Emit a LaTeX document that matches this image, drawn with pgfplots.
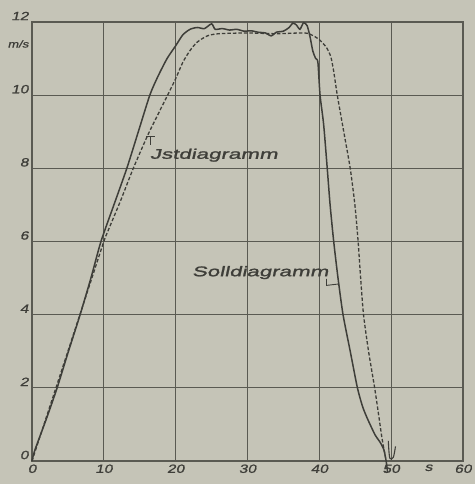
\documentclass[border=0pt]{standalone}
\usepackage{pgfplots}
\pgfplotsset{compat=1.18}
\usepackage{fontspec}
\setmainfont{Liberation Sans}
\newfontfamily\lab[FakeSlant=0.22,FakeStretch=1.3,FakeBold=1.2]{Liberation Sans}
\newfontfamily\curvelab[FakeSlant=0.22,FakeStretch=1.6,FakeBold=1.5]{Liberation Sans}
\definecolor{paper}{HTML}{C5C4B7}
\definecolor{ink}{HTML}{3E3E39}
\definecolor{gridc}{HTML}{5A5A52}

\begin{document}
\begin{tikzpicture}
\fill[paper] (-32bp,-23bp) rectangle (443bp,461bp);
\begin{axis}[
    scale only axis,
    width=431bp, height=439bp,
    xmin=0, xmax=60, ymin=0, ymax=12,
    xtick={0,10,...,60}, ytick={0,2,...,12},
    grid=major,
    major grid style={gridc, line width=1.1bp},
    axis line style={gridc, line width=1.1bp},
    major tick length=0pt,
    /pgf/number format/assume math mode=true,
    ticklabel style={font=\lab\fontsize{12}{12}\selectfont, text=ink},
    yticklabel style={yshift=6bp},
    clip=false,
]
% solid curve
\addplot[ink, line width=1.5bp, smooth, tension=0.4] coordinates {
(0,0) (0.4,0.3) (2,1.15) (3.5,2) (5,2.95) (6.7,4) (8.2,5) (9.6,6) (11.4,7)
(13.2,8) (14.8,9) (16.4,10) (17.5,10.5) (18.8,11) (20,11.35) (21,11.65)
(22,11.8) (23,11.85) (24,11.82) (25,11.95) (25.5,11.8) (26.5,11.82)
(27.5,11.78) (28.5,11.8) (29.5,11.75) (30.5,11.76) (31.5,11.72) (32.5,11.7)
(33.3,11.62) (34,11.72) (35,11.75) (35.8,11.85) (36.3,11.97) (36.8,11.92)
(37.3,11.8) (37.8,11.98) (38.3,11.9) (38.7,11.6) (39.1,11.2) (39.5,11.0)
(39.8,10.9) (40.1,10) (40.6,9.2) (41.1,8) (41.5,7) (42.0,6) (42.6,5)
(43.3,4) (44.3,3) (45.3,2) (46,1.5) (46.6,1.2) (47.3,0.9) (47.8,0.7)
(48.5,0.5) (49,0.3) (49.3,0) (49.5,-0.3)
};
% dashed curve
\addplot[ink, line width=1.3bp, dash pattern=on 3.5bp off 2bp, smooth, tension=0.4] coordinates {
(0,0) (2,1.2) (4,2.4) (6,3.6) (8,4.8) (10,6) (10.6,6.3) (12.3,7.1) (14.1,8)
(16.1,8.9) (17.6,9.5) (19,10.05) (20,10.45) (21,10.9) (22,11.22) (23,11.45)
(24.4,11.62) (26,11.68) (30,11.7) (34,11.68) (38,11.7) (39.2,11.62) (40.1,11.5)
(41,11.3) (41.6,11.05) (42,10.65) (42.5,10) (43.4,9) (44.3,8) (44.95,7)
(45.4,6) (45.75,5) (46.15,4) (46.85,3) (47.7,2) (48.3,1.2) (48.7,0.65) (49.2,0.1)
};
% small hook at the end
\addplot[ink, line width=1.1bp, smooth] coordinates {(49.6,0.55) (49.8,0.08) (50.3,0.1) (50.6,0.4)};
% leader lines
\addplot[ink, line width=0.9bp] coordinates {(15.9,8.88) (17.1,8.88)};
\addplot[ink, line width=0.9bp] coordinates {(16.5,8.88) (16.5,8.65)};
\addplot[ink, line width=0.9bp] coordinates {(41.0,4.98) (41.0,4.8) (42.75,4.84)};

\node[font=\curvelab\fontsize{14}{14}\selectfont, text=ink, anchor=west, inner sep=0pt]
    at (axis cs:16.4,8.36) {Jstdiagramm};
\node[font=\curvelab\fontsize{14}{14}\selectfont, text=ink, anchor=east, inner sep=0pt]
    at (axis cs:41.3,5.15) {Solldiagramm};
\node[font=\lab\fontsize{10}{10}\selectfont, text=ink, anchor=east]
    at (axis cs:0,11.4) {m/s};
\node[font=\lab\fontsize{12}{12}\selectfont, text=ink, anchor=north]
    at (axis cs:55.2,0) {s};
\end{axis}
\end{tikzpicture}
\end{document}
